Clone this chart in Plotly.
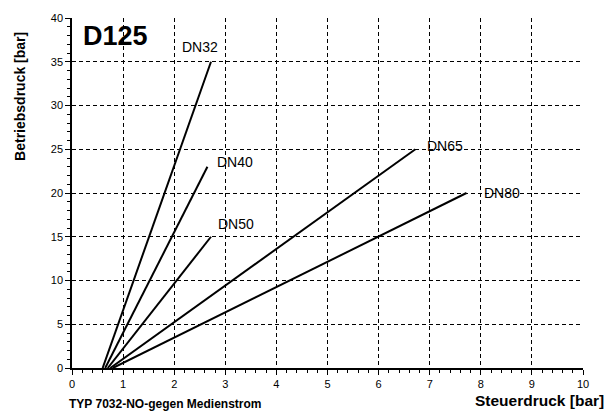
import plotly.graph_objects as go

# Betriebsdruck über Steuerdruck für die Nennweiten DN32 … DN80
series_names = ["DN32", "DN40", "DN50", "DN65", "DN80"]
steuerdruck = [[0.6, 2.72], [0.65, 2.65], [0.7, 2.72], [0.75, 6.72], [0.8, 7.72]]
betriebsdruck = [[0, 35], [0, 23], [0, 15], [0, 25], [0, 20]]

x_ticks = list(range(0, 11))
y_ticks = list(range(0, 41, 5))

FONT = "Liberation Sans, Arial, sans-serif"

fig = go.Figure()
for name, xs, ys in zip(series_names, steuerdruck, betriebsdruck):
    fig.add_trace(go.Scatter(x=xs, y=ys, mode="lines", name=name,
                             line=dict(color="black", width=2),
                             showlegend=False, hoverinfo="skip"))

# Beschriftung neben dem Ende jeder Kennlinie (Versatz in Achseneinheiten)
label_offsets = {"DN32": (-0.6, 1.7), "DN40": (0.15, 0.5),
                 "DN50": (0.1, 1.5), "DN65": (0.18, 0.4),
                 "DN80": (0.31, 0.0)}
for name, xs, ys in zip(series_names, steuerdruck, betriebsdruck):
    dx, dy = label_offsets[name]
    fig.add_annotation(x=xs[-1] + dx, y=ys[-1] + dy, text=name, showarrow=False,
                       xanchor="left", yanchor="middle",
                       font=dict(family=FONT, size=14, color="black"))

fig.add_annotation(x=0.17, y=37.9, text="<b>D125</b>", showarrow=False,
                   xanchor="left", yanchor="middle",
                   font=dict(family=FONT, size=27, color="black"))

# Achsentitel
fig.add_annotation(xref="paper", yref="paper", x=-0.102, y=0.777,
                   text="<b>Betriebsdruck [bar]</b>", showarrow=False, textangle=-90,
                   xanchor="center", yanchor="middle",
                   font=dict(family=FONT, size=14, color="black"))
fig.add_annotation(xref="paper", yref="paper", x=1.045, y=-0.093,
                   text="<b>Steuerdruck [bar]</b>", showarrow=False,
                   xanchor="right", yanchor="middle",
                   font=dict(family=FONT, size=15.5, color="black"))
fig.add_annotation(xref="paper", yref="paper", x=-0.01, y=-0.104,
                   text="<b>TYP 7032-NO-gegen Medienstrom</b>", showarrow=False,
                   xanchor="left", yanchor="middle",
                   font=dict(family=FONT, size=12, color="black"))

fig.update_xaxes(range=[0, 10], tickvals=x_ticks, ticktext=[str(v) for v in x_ticks],
                 showgrid=True, gridcolor="black", gridwidth=1, griddash="4px,3px",
                 showline=True, linecolor="black", linewidth=1.5, zeroline=False,
                 ticks="outside", ticklen=5, tickcolor="black",
                 minor=dict(dtick=0.2, ticks="outside", ticklen=3, tickcolor="black", showgrid=False),
                 tickfont=dict(family=FONT, size=11, color="black"))
fig.update_yaxes(range=[0, 40], tickvals=y_ticks, ticktext=[str(v) for v in y_ticks],
                 showgrid=True, gridcolor="black", gridwidth=1, griddash="4px,3px",
                 showline=True, linecolor="black", linewidth=1.5, zeroline=False,
                 ticks="outside", ticklen=5, tickcolor="black",
                 minor=dict(dtick=1, ticks="outside", ticklen=3, tickcolor="black", showgrid=False),
                 tickfont=dict(family=FONT, size=11, color="black"))

fig.update_layout(width=614, height=414, margin=dict(l=72, r=31, t=13, b=46),
                  plot_bgcolor="white", paper_bgcolor="white")

fig.write_html("out.html")
